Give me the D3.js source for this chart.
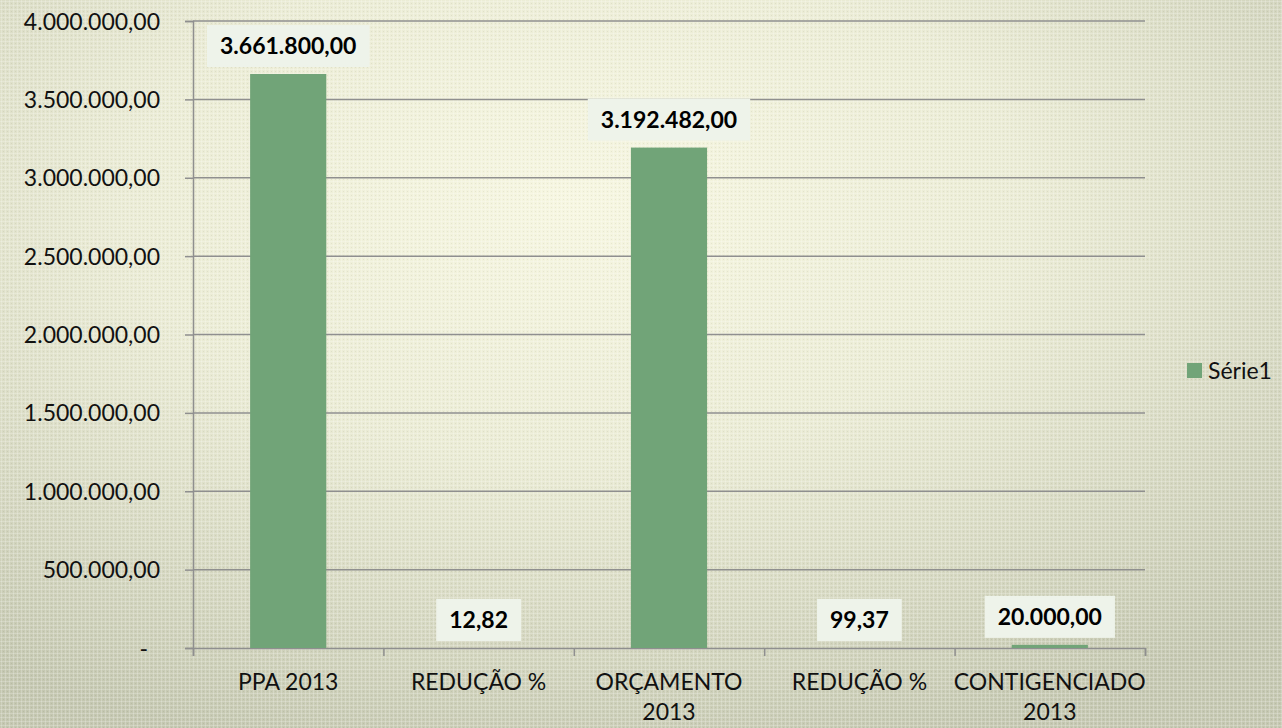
<!DOCTYPE html>
<html>
<head>
<meta charset="utf-8">
<script src="https://cdn.jsdelivr.net/npm/d3@7"></script>
<style>
  html, body { margin: 0; padding: 0; overflow: hidden; }
  svg { display: block; font-family: Lato, "Open Sans", sans-serif; }
</style>
</head>
<body>
<div id="chart"></div>
<script>
// Data
const categories = ["PPA 2013", "REDUÇÃO %", "ORÇAMENTO 2013", "REDUÇÃO %", "CONTIGENCIADO 2013"];
const values = [3661800, 12.82, 3192482, 99.37, 20000];
const yTicks = [0, 500000, 1000000, 1500000, 2000000, 2500000, 3000000, 3500000, 4000000];
const seriesName = "Série1";

const FONT = "Lato, 'Open Sans', sans-serif";
const FS = 23;

const dimensions = {
  width: 1282,
  height: 728,
  margin: { top: 21, right: 137, bottom: 80, left: 193 },
};
dimensions.innerWidth = dimensions.width - dimensions.margin.left - dimensions.margin.right;
dimensions.innerHeight = dimensions.height - dimensions.margin.top - dimensions.margin.bottom;

const ptBR = d3.formatLocale({ decimal: ",", thousands: ".", grouping: [3], currency: ["R$", ""] });
const fmt = ptBR.format(",.2f");

const svg = d3
  .select("#chart")
  .append("svg")
  .attr("width", dimensions.width)
  .attr("height", dimensions.height);

// Background: radial gradient + fine texture
const defs = svg.append("defs");
const grad = defs
  .append("radialGradient")
  .attr("id", "bg")
  .attr("cx", "45%")
  .attr("cy", "28%")
  .attr("r", "78%");
grad.append("stop").attr("offset", "0%").attr("stop-color", "#f6f6e0");
grad.append("stop").attr("offset", "45%").attr("stop-color", "#eaebd4");
grad.append("stop").attr("offset", "100%").attr("stop-color", "#c4c7b0");

const pat = defs
  .append("pattern")
  .attr("id", "tex")
  .attr("width", 4)
  .attr("height", 4)
  .attr("patternUnits", "userSpaceOnUse");
pat.append("rect").attr("x", 0).attr("y", 1).attr("width", 4).attr("height", 1).attr("fill", "#ffffff").attr("opacity", 0.2);
pat.append("rect").attr("x", 1).attr("y", 0).attr("width", 1).attr("height", 4).attr("fill", "#ffffff").attr("opacity", 0.2);
pat.append("rect").attr("x", 3).attr("y", 3).attr("width", 1).attr("height", 1).attr("fill", "#000000").attr("opacity", 0.06);

svg.append("rect").attr("width", dimensions.width).attr("height", dimensions.height).attr("fill", "url(#bg)");
svg.append("rect").attr("width", dimensions.width).attr("height", dimensions.height).attr("fill", "url(#tex)");

const graph = svg
  .append("g")
  .attr("transform", `translate(${dimensions.margin.left}, ${dimensions.margin.top})`);

// Scales
const xScale = d3
  .scaleBand()
  .domain(d3.range(categories.length))
  .range([0, dimensions.innerWidth])
  .paddingInner(0.6)
  .paddingOuter(0.3);

const yScale = d3
  .scaleLinear()
  .domain([0, 4000000])
  .range([dimensions.innerHeight, 0]);

// Gridlines
graph
  .append("g")
  .selectAll("line")
  .data(yTicks.slice(1))
  .join("line")
  .attr("x1", 0)
  .attr("x2", dimensions.innerWidth)
  .attr("y1", (d) => yScale(d))
  .attr("y2", (d) => yScale(d))
  .attr("stroke", "#8f8f8f")
  .attr("stroke-width", 1.5);

// Y axis
const yAxis = graph
  .append("g")
  .call(
    d3.axisLeft(yScale)
      .tickValues(yTicks)
      .tickSize(8)
      .tickPadding(25)
      .tickFormat((d) => (d === 0 ? "-" : fmt(d)))
  )
  .attr("font-family", FONT)
  .attr("font-size", FS);
yAxis.select(".domain").attr("stroke", "#8f8f8f").attr("stroke-width", 1.5);
yAxis.selectAll(".tick line").attr("stroke", "#8f8f8f").attr("stroke-width", 1.5);
yAxis
  .selectAll(".tick text")
  .attr("fill", "#111")
  .attr("dy", "0.35em")
  .filter((d) => d === 0)
  .attr("dx", -12);

// X axis
const xAxisScale = d3.scaleLinear().domain([0, categories.length]).range([0, dimensions.innerWidth]);
const xAxis = graph
  .append("g")
  .attr("transform", `translate(0, ${dimensions.innerHeight})`)
  .call(d3.axisBottom(xAxisScale).tickValues(d3.range(categories.length + 1)).tickSize(8).tickFormat(""));
xAxis.select(".domain").attr("stroke", "#8f8f8f").attr("stroke-width", 1.5);
xAxis.selectAll(".tick line").attr("stroke", "#8f8f8f").attr("stroke-width", 1.5);

// Category labels (wrapped)
const catLabels = graph
  .append("g")
  .selectAll("text")
  .data(categories)
  .join("text")
  .attr("x", (d, i) => xScale(i) + xScale.bandwidth() / 2)
  .attr("y", dimensions.innerHeight + 42)
  .attr("text-anchor", "middle")
  .attr("font-size", FS)
  .attr("fill", "#111");
catLabels.each(function (d) {
  const words = d.split(" ");
  const el = d3.select(this);
  const lines = d.length > 10 ? [words.slice(0, -1).join(" "), words[words.length - 1]] : [d];
  lines.forEach((line, k) => {
    el.append("tspan")
      .attr("x", el.attr("x"))
      .attr("dy", k === 0 ? 0 : 30)
      .text(line);
  });
});

// Bars
graph
  .append("g")
  .selectAll("rect")
  .data(values)
  .join("rect")
  .attr("x", (d, i) => xScale(i))
  .attr("y", (d) => yScale(d))
  .attr("width", xScale.bandwidth())
  .attr("height", (d) => dimensions.innerHeight - yScale(d))
  .attr("fill", "#71a478");

// Data labels with boxes
const labels = graph
  .append("g")
  .selectAll("g")
  .data(values)
  .join("g")
  .attr("transform", (d, i) => `translate(${xScale(i) + xScale.bandwidth() / 2}, ${yScale(d) - 28})`);
labels.each(function (d) {
  const g = d3.select(this);
  const t = g
    .append("text")
    .attr("text-anchor", "middle")
    .attr("dy", "0.35em")
    .attr("font-size", FS)
    .attr("font-weight", "bold")
    .attr("fill", "#000")
    .text(fmt(d));
  const w = t.node().getComputedTextLength();
  g.insert("rect", "text")
    .attr("x", -w / 2 - 13)
    .attr("y", -21)
    .attr("width", w + 26)
    .attr("height", 42)
    .attr("fill", "#eef3ea");
});

// Legend
const legend = svg.append("g").attr("transform", "translate(1187, 363)");
legend.append("rect").attr("width", 15).attr("height", 15).attr("fill", "#71a478");
legend
  .append("text")
  .attr("x", 21)
  .attr("y", 7.5)
  .attr("dy", "0.35em")
  .attr("font-size", FS)
  .attr("fill", "#111")
  .text(seriesName);
</script>
</body>
</html>
